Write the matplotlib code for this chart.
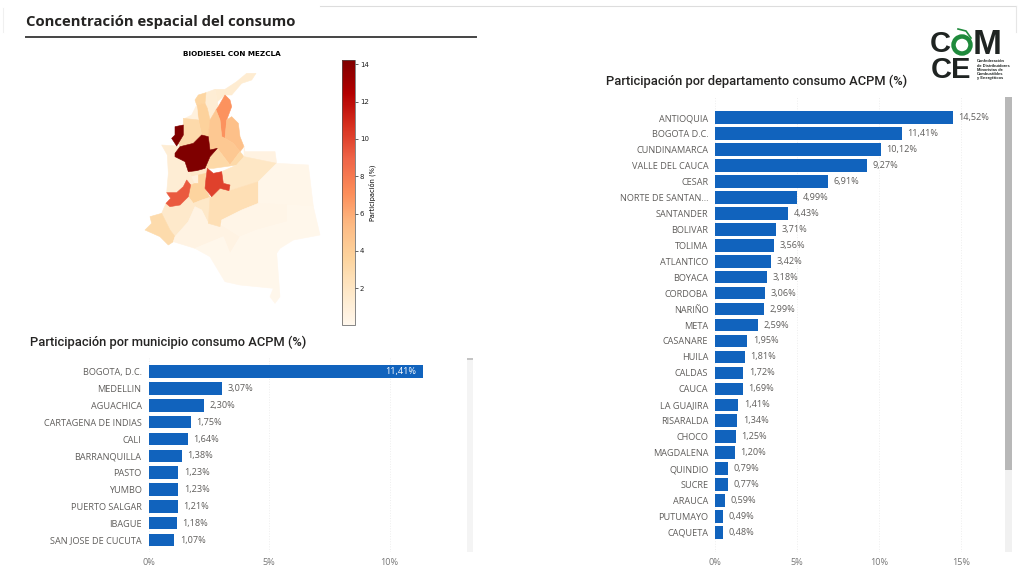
import matplotlib
matplotlib.use("Agg")
from matplotlib import pyplot as plt
from matplotlib.collections import PatchCollection
from matplotlib.colors import Normalize
from matplotlib.patches import Circle, Polygon

W, H = 1024, 572
BAR_COLOR = "#1163bd"
LABEL_COLOR = "#605e5c"
TICK_COLOR = "#777777"

# municipios
mun_names = ["BOGOTA, D.C.", "MEDELLIN", "AGUACHICA", "CARTAGENA DE INDIAS", "CALI", "BARRANQUILLA",
             "PASTO", "YUMBO", "PUERTO SALGAR", "IBAGUE", "SAN JOSE DE CUCUTA"]
mun_values = [11.41, 3.07, 2.30, 1.75, 1.64, 1.38, 1.23, 1.23, 1.21, 1.18, 1.07]

# departamentos
dep_names = ["ANTIOQUIA", "BOGOTA D.C.", "CUNDINAMARCA", "VALLE DEL CAUCA", "CESAR", "NORTE DE SANTAN...",
             "SANTANDER", "BOLIVAR", "TOLIMA", "ATLANTICO", "BOYACA", "CORDOBA", "NARIÑO", "META",
             "CASANARE", "HUILA", "CALDAS", "CAUCA", "LA GUAJIRA", "RISARALDA", "CHOCO", "MAGDALENA",
             "QUINDIO", "SUCRE", "ARAUCA", "PUTUMAYO", "CAQUETA"]
dep_values = [14.52, 11.41, 10.12, 9.27, 6.91, 4.99, 4.43, 3.71, 3.56, 3.42, 3.18, 3.06, 2.99, 2.59,
              1.95, 1.81, 1.72, 1.69, 1.41, 1.34, 1.25, 1.20, 0.79, 0.77, 0.59, 0.49, 0.48]
# los que no salen en las barras, estimados del mapa
other_values = {"VICHADA": 0.25, "GUAINIA": 0.1, "GUAVIARE": 0.3, "VAUPES": 0.1, "AMAZONAS": 0.1}

# escala de la barra de color
cbar_min, cbar_max = 0.03, 14.23
cbar_ticks = [2, 4, 6, 8, 10, 12, 14]

map_shapes = [
    ("LA GUAJIRA", [(378, 100), (350, 100), (320, 125), (285, 148), (255, 148), (262, 185), (285, 165), (305, 165), (335, 130), (365, 120)]),
    ("MAGDALENA", [(255, 148), (228, 158), (225, 190), (232, 205), (240, 240), (258, 210), (265, 200), (262, 185)]),
    ("ATLANTICO", [(228, 158), (205, 165), (195, 180), (200, 195), (225, 190)]),
    ("BOLIVAR", [(200, 195), (225, 190), (232, 205), (240, 240), (235, 290), (215, 285), (205, 240)]),
    ("SUCRE", [(200, 195), (205, 240), (165, 235), (185, 225)]),
    ("CORDOBA", [(160, 235), (205, 240), (215, 285), (190, 310), (150, 320), (145, 310), (160, 285), (160, 255)]),
    ("CESAR", [(265, 200), (285, 165), (300, 180), (305, 200), (290, 240), (285, 295), (275, 290), (270, 240), (258, 210)]),
    ("NORTE DE SANTAN...", [(290, 240), (305, 230), (325, 250), (330, 290), (342, 320), (330, 335), (310, 310), (285, 295)]),
    ("SANTANDER", [(240, 240), (258, 210), (270, 240), (275, 290), (285, 295), (310, 310), (330, 335), (300, 375), (262, 325), (240, 330), (235, 290)]),
    ("BOYACA", [(262, 325), (300, 375), (330, 335), (342, 350), (320, 375), (250, 385), (225, 385), (240, 350)]),
    ("ARAUCA", [(342, 320), (342, 350), (440, 370), (435, 335), (345, 335)]),
    ("CASANARE", [(342, 350), (440, 370), (385, 425), (300, 450), (297, 435), (280, 430), (275, 395), (320, 375)]),
    ("CHOCO", [(95, 315), (140, 318), (150, 320), (135, 340), (135, 350), (165, 365), (175, 395), (170, 420), (160, 440), (140, 458), (110, 458), (115, 400), (112, 345)]),
    ("CALDAS", [(175, 395), (200, 392), (225, 385), (232, 385), (228, 400), (185, 410)]),
    ("RISARALDA", [(175, 395), (185, 410), (195, 430), (182, 435), (170, 420)]),
    ("QUINDIO", [(185, 410), (205, 405), (205, 430), (195, 430)]),
    ("TOLIMA", [(182, 435), (195, 430), (205, 430), (205, 405), (228, 400), (225, 445), (240, 472), (215, 480), (190, 490), (175, 470)]),
    ("HUILA", [(190, 490), (215, 480), (240, 472), (235, 550), (215, 510), (195, 500)]),
    ("CAUCA", [(108, 490), (120, 500), (150, 495), (175, 470), (190, 490), (195, 500), (175, 545), (135, 590), (120, 570), (95, 520)]),
    ("NARIÑO", [(60, 530), (95, 520), (120, 570), (135, 590), (130, 605), (115, 615), (90, 590), (45, 570), (65, 550)]),
    ("PUTUMAYO", [(135, 590), (175, 545), (240, 575), (280, 590), (195, 625), (130, 605)]),
    ("CAQUETA", [(195, 500), (215, 510), (235, 550), (270, 560), (275, 555), (330, 590), (300, 640), (280, 590), (240, 575), (175, 545)]),
    ("META", [(245, 470), (270, 445), (297, 452), (385, 425), (385, 490), (335, 510), (275, 540), (270, 560), (235, 550), (240, 472)]),
    ("VICHADA", [(440, 370), (535, 375), (550, 500), (470, 495), (385, 490), (385, 425)]),
    ("GUAINIA", [(470, 495), (550, 500), (570, 585), (490, 600), (470, 545)]),
    ("GUAVIARE", [(385, 490), (470, 495), (470, 545), (380, 570), (330, 590), (275, 555), (275, 540), (335, 510)]),
    ("VAUPES", [(380, 570), (470, 545), (490, 600), (450, 625), (440, 640), (300, 640), (330, 590)]),
    ("AMAZONAS", [(195, 625), (280, 590), (300, 640), (440, 640), (450, 770), (435, 790), (420, 770), (430, 745), (330, 735), (285, 725), (240, 650)]),
    ("VALLE DEL CAUCA", [(170, 420), (182, 435), (175, 470), (150, 495), (120, 500), (108, 490), (122, 475), (110, 458), (140, 458), (160, 440)]),
    ("CUNDINAMARCA", [(232, 385), (250, 400), (275, 395), (280, 430), (300, 435), (297, 452), (270, 445), (245, 470), (225, 445), (228, 415)]),
    ("ANTIOQUIA", [(135, 340), (150, 320), (190, 310), (215, 285), (235, 290), (240, 330), (262, 325), (240, 350), (225, 385), (200, 392), (175, 395), (165, 365), (135, 350)]),
    ("ANTIOQUIA", [(135, 260), (160, 255), (160, 285), (145, 310), (140, 318), (125, 295), (135, 285)]),
]


def px_axes(fig, left, top, right, bottom):
    # ejes ubicados con pixeles de la imagen
    return fig.add_axes([left / W, 1 - bottom / H, (right - left) / W, (bottom - top) / H])


def bar_panel(fig, names, values, left, top, right, bottom, x_max, ticks, first_y, step, inside_first=False):
    ax = px_axes(fig, left, top, right, bottom)
    y = list(range(len(names)))
    ax.barh(y, values, height=12.6 / step, color=BAR_COLOR)
    ax.set_xlim(0, x_max)
    ax.set_ylim((bottom - first_y) / step, (top - first_y) / step)
    ax.set_yticks(y, names)
    ax.set_xticks(ticks, [f"{t}%" for t in ticks])
    ax.tick_params(axis="y", length=0, pad=5, labelsize=6.6, labelcolor=LABEL_COLOR)
    ax.tick_params(axis="x", length=0, pad=4.5, labelsize=6.6, labelcolor=TICK_COLOR)
    ax.grid(axis="x", color="#eeeeee", lw=0.7, ls=":")
    ax.set_axisbelow(True)
    for s in ax.spines.values():
        s.set_visible(False)
    for i, v in enumerate(values):
        label = f"{v:.2f}%".replace(".", ",")
        if inside_first and i == 0:
            ax.annotate(label, (v, i), xytext=(-5.5, 0), textcoords="offset points", ha="right", va="center",
                        fontsize=6.6, color="white")
        else:
            ax.annotate(label, (v, i), xytext=(4, 0), textcoords="offset points", ha="left", va="center",
                        fontsize=6.6, color=LABEL_COLOR)
    return ax


plt.rcParams["font.family"] = ["Open Sans", "DejaVu Sans"]
fig = plt.figure(figsize=(W / 100, H / 100), dpi=100, facecolor="white")

# capa de fondo en pixeles: titulos, lineas, barras de scroll y logo
bg = fig.add_axes([0, 0, 1, 1])
bg.set_xlim(0, W)
bg.set_ylim(H, 0)
bg.axis("off")

bg.plot([320, 1016], [6, 6], color="#dddddd", lw=0.8)
bg.plot([1016, 1016], [6, 32], color="#e6e6e6", lw=0.8)
bg.plot([3, 3], [8, 32], color="#f0f0f0", lw=0.8)
bg.plot([26, 476], [37, 37], color="#444444", lw=1.4)
bg.text(26, 22, "Concentración espacial del consumo", fontsize=10.7, fontweight="bold", color="#252423",
        va="center", family=["Open Sans"])
bg.text(30, 342, "Participación por municipio consumo ACPM (%)", fontsize=9.3, fontweight="medium", color="#252423",
        va="center", family=["Roboto"])
bg.text(606, 81, "Participación por departamento consumo ACPM (%)", fontsize=9.3, fontweight="medium", color="#252423",
        va="center", family=["Roboto"])
bg.text(232, 53.5, "BIODIESEL CON MEZCLA", fontsize=5.2, fontweight="bold", color="black", ha="center", va="center",
        family=["DejaVu Sans"])

# scroll izquierdo
bg.fill_between([467, 473], 358, 552, color="#f4f4f4", lw=0)
bg.fill_between([467, 473], 358, 360, color="#c4c4c4", lw=0)
# scroll derecho
bg.fill_between([1005, 1012], 97, 552, color="#f1f1f1", lw=0)
bg.fill_between([1005, 1012], 97, 470, color="#b8b8b8", lw=0)

# logo
logo_dark = "#1f2422"
logo_green = "#1f8a3c"
bg.text(940, 44, "C", fontsize=21, fontweight="bold", color=logo_dark, ha="center", va="center", family=["Liberation Sans"])
bg.add_patch(Circle((962, 45), 8.5, fill=False, ec=logo_green, lw=3.2))
bg.plot([958, 966, 971], [29, 31, 38], color=logo_green, lw=1.2)
bg.text(987, 44, "M", fontsize=25, fontweight="bold", color=logo_dark, ha="center", va="center", family=["Liberation Sans"])
bg.text(951, 70, "CE", fontsize=21, fontweight="bold", color=logo_dark, ha="center", va="center", family=["Liberation Sans"])
logo_lines = ["Confederación", "de Distribuidores", "Minoristas de", "Combustibles", "y Energéticos"]
for i, line in enumerate(logo_lines):
    bg.text(977, 61.5 + i * 4.2, line, fontsize=2.9, fontweight="bold", color=logo_dark, va="center",
            family=["Liberation Sans"])

# mapa
values_by_name = dict(zip(dep_names, dep_values))
values_by_name.update(other_values)
norm = Normalize(cbar_min, cbar_max)
map_ax = px_axes(fig, 130, 40, 390, 335)
map_ax.set_xlim(0, 780)
map_ax.set_ylim(885, 0)
map_ax.axis("off")
map_ax.patch.set_alpha(0)
patches = [Polygon(pts, closed=True) for _, pts in map_shapes]
shape_values = [values_by_name[name] for name, _ in map_shapes]
coll = PatchCollection(patches, cmap="OrRd", norm=norm, linewidths=0.4)
coll.set_array(shape_values)
coll.set_edgecolor("face")
map_ax.add_collection(coll)

# barra de color
cax = px_axes(fig, 342, 60, 355, 325)
cb = fig.colorbar(coll, cax=cax)
cb.set_ticks(cbar_ticks)
cb.ax.tick_params(labelsize=5, length=2, width=0.5, pad=1.5, colors="#222222")
cb.set_label("Participación (%)", fontsize=4.8, labelpad=0, family=["DejaVu Sans"])
cb.outline.set_linewidth(0.5)
cb.outline.set_edgecolor("#555555")
for t in cb.ax.get_yticklabels():
    t.set_family(["DejaVu Sans"])

# barras
bar_panel(fig, mun_names, mun_values, 148.5, 358, 465, 552, (465 - 148.5) / 24.1, [0, 5, 10], 371.7, 16.83,
          inside_first=True)
bar_panel(fig, dep_names, dep_values, 715.3, 97, 1003, 552, (1003 - 715.3) / 16.37, [0, 5, 10, 15], 117.7, 15.95)

fig.savefig("out.png", dpi=100)
plt.close(fig)
